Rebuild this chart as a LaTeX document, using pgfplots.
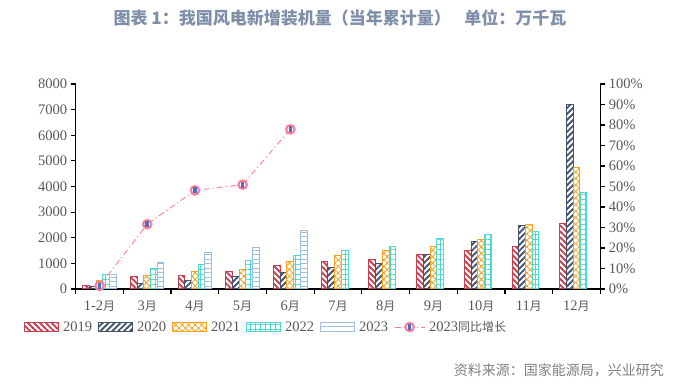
\documentclass[border=0pt]{standalone}
\usepackage{pgfplots}
\pgfplotsset{compat=1.18}
\usetikzlibrary{patterns.meta}
\usepackage{fontspec}
\setmainfont{Liberation Serif}
\newfontfamily\cjk{Noto Sans CJK SC}
\newcommand{\yue}{{\cjk\fontsize{12}{14}\selectfont 月}}
\definecolor{c19}{RGB}{200,64,80}
\definecolor{c20}{RGB}{68,84,106}
\definecolor{c21}{RGB}{245,163,30}
\definecolor{c22}{RGB}{78,216,207}
\definecolor{c23}{RGB}{155,190,225}
\definecolor{pinkc}{RGB}{255,125,155}
\definecolor{markblue}{RGB}{68,114,196}
\definecolor{tickgray}{RGB}{89,89,89}
\definecolor{titlec}{RGB}{127,143,169}
\definecolor{srcc}{RGB}{128,128,128}
\pgfdeclareplotmark{ringmark}{%
  \pgfsetlinewidth{2.2pt}\pgfsetstrokecolor{pinkc}\pgfsetfillcolor{white}%
  \pgfsetdash{}{0pt}%
  \pgfpathcircle{\pgfpointorigin}{4.2pt}\pgfusepath{fill,stroke}%
  \pgfsetfillcolor{markblue}%
  \pgfpathrectangle{\pgfpoint{-1.8pt}{-3pt}}{\pgfpoint{3.6pt}{6pt}}\pgfusepath{fill}%
}
\tikzset{
  s19/.style={draw=c19,line width=1pt,pattern={Lines[angle=-45,distance=4.2pt,line width=1.9pt]},pattern color=c19},
  s20/.style={draw=c20,line width=1pt,pattern={Lines[angle=45,distance=4.2pt,line width=1.9pt]},pattern color=c20},
  s21/.style={draw=c21,line width=1pt,pattern={Hatch[angle=45,distance=4.6pt,line width=0.8pt]},pattern color=c21},
  s22/.style={draw=c22,line width=1pt,pattern={Hatch[angle=0,distance=5pt,line width=1pt]},pattern color=c22},
  s23/.style={draw=c23,line width=1pt,pattern={Lines[angle=0,distance=4.5pt,line width=1pt]},pattern color=c23},
}
\pgfplotsset{
  barleg/.style={legend image code/.code={\draw[##1] (0pt,-4.5pt) rectangle (34pt,4.5pt); \path (36pt,0pt);}},
  lineleg/.style={legend image code/.code={\draw[##1,mark repeat=2,mark phase=2] plot coordinates {(0pt,0pt)(15pt,0pt)(30pt,0pt)}; \path (32pt,0pt);}},
}
\begin{document}
\begin{tikzpicture}
\useasboundingbox (-75.7pt,-101pt) rectangle (604.3pt,289pt);
\begin{axis}[
  scale only axis, width=524.6pt, height=205pt,
  xmin=-0.5, xmax=10.5, ymin=0, ymax=8000,
  axis x line*=bottom, axis y line*=left,
  axis line style={line width=1.2pt, black},
  ybar=0pt, bar width=6.7pt,
  xtick={0,...,10},
  xticklabels={1-2\yue,3\yue,4\yue,5\yue,6\yue,7\yue,8\yue,9\yue,10\yue,11\yue,12\yue},
  x tick style={draw=none},
  extra x ticks={-0.5,0.5,...,10.5},
  extra x tick labels={},
  extra x tick style={major tick length=5pt, tick align=outside, x tick style={draw=black, line width=1.2pt}},
  ytick={0,1000,...,8000},
  y tick style={black, line width=1.2pt},
  major tick length=5pt, tick align=outside,
  scaled y ticks=false,
  /pgf/number format/assume math mode=true,
  /pgf/number format/1000 sep={},
  ticklabel style={font=\fontsize{14.5}{16}\selectfont, text=tickgray},
  xticklabel style={yshift=-3pt},
]
\addplot[s19] coordinates {(0,150)(1,505)(2,530)(3,700)(4,920)(5,1060)(6,1140)(7,1335)(8,1490)(9,1650)(10,2570)};
\addplot[s20] coordinates {(0,100)(1,225)(2,340)(3,505)(4,630)(5,850)(6,1005)(7,1335)(8,1845)(9,2470)(10,7200)};
\addplot[s21] coordinates {(0,315)(1,545)(2,665)(3,780)(4,1090)(5,1295)(6,1495)(7,1650)(8,1925)(9,2510)(10,4760)};
\addplot[s22] coordinates {(0,570)(1,805)(2,965)(3,1095)(4,1290)(5,1510)(6,1650)(7,1960)(8,2120)(9,2250)(10,3770)};
\addplot[s23] coordinates {(0,570)(1,1040)(2,1430)(3,1625)(4,2300)};
\end{axis}
\begin{axis}[
  scale only axis, width=524.6pt, height=205pt,
  xmin=-0.5, xmax=10.5, ymin=0, ymax=100,
  axis x line=none, axis y line*=right,
  axis line style={line width=1.2pt, black},
  ytick={0,10,...,100},
  yticklabel={\pgfmathprintnumber{\tick}\%},
  y tick style={black, line width=1.2pt},
  major tick length=5pt, tick align=outside,
  /pgf/number format/assume math mode=true,
  ticklabel style={font=\fontsize{14.5}{16}\selectfont, text=tickgray},
  legend columns=6,
  legend style={at={(-0.0986,-0.1854)}, anchor=west, draw=none, fill=none, inner sep=0pt,
    font=\fontsize{14.5}{16}\selectfont, text=tickgray,
    /tikz/every even column/.append style={column sep=4pt}},
]
\addlegendimage{s19, barleg}
\addlegendentry{2019}
\addlegendimage{s20, barleg}
\addlegendentry{2020}
\addlegendimage{s21, barleg}
\addlegendentry{2021}
\addlegendimage{s22, barleg}
\addlegendentry{2022}
\addlegendimage{s23, barleg}
\addlegendentry{2023}
\addplot[pinkc, line width=0.9pt, dash pattern=on 6pt off 3pt on 1.2pt off 3pt, mark=ringmark, lineleg]
  coordinates {(0,1.5)(1,31.6)(2,48.1)(3,50.9)(4,77.9)};
\addlegendentry{2023{\cjk\fontsize{12}{14}\selectfont 同比增长}}
\end{axis}
\node[font=\cjk\bfseries\fontsize{17}{20}\selectfont, text=titlec] at (264.3pt,271pt) {图表 1：我国风电新增装机量（当年累计量）\hspace{0.8em}单位：万千瓦};
\node[font=\cjk\fontsize{14}{16}\selectfont, text=srcc, anchor=east, inner sep=0pt] at (588.3pt,-81pt) {资料来源：国家能源局，兴业研究};
\end{tikzpicture}
\end{document}
